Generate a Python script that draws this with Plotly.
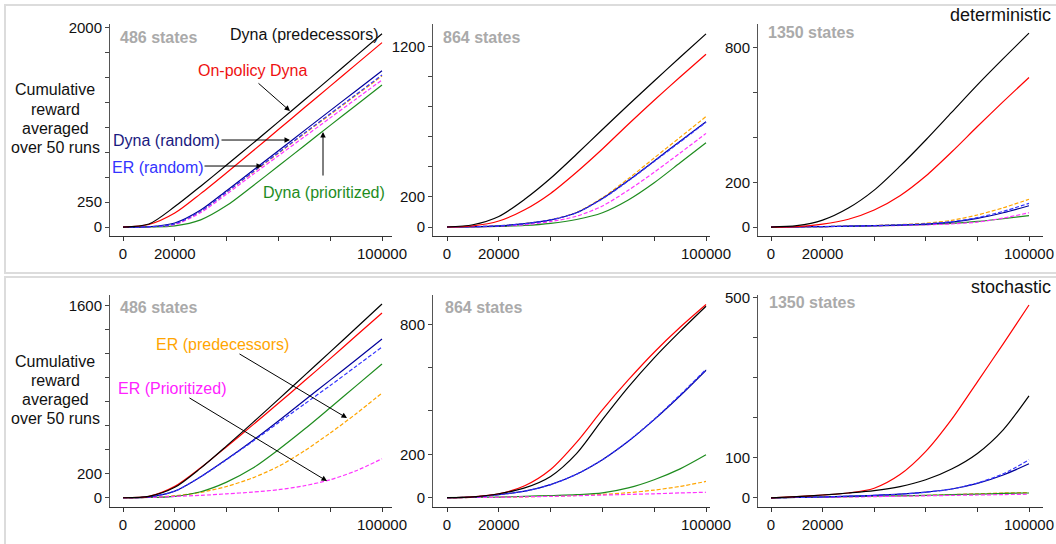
import plotly.graph_objects as go

# ---------------- data ----------------
steps = [0, 10000, 20000, 30000, 40000, 50000, 60000, 70000, 80000, 90000, 100000]

series_names = ["ER (predecessors)", "Dyna (prioritized)", "ER (Prioritized)",
                "Dyna (random)", "ER (random)", "On-policy Dyna", "Dyna (predecessors)"]

# deterministic, 486 states
det486_er_pred   = [0, 2, 30, 160, 350, 545, 740, 935, 1128, 1322, 1515]
det486_dyna_prio = [0, 1, 12, 72, 215, 410, 612, 816, 1020, 1222, 1425]
det486_er_prio   = [0, 2, 25, 145, 330, 525, 715, 905, 1095, 1285, 1475]
det486_dyna_rand = [0, 3, 40, 170, 365, 565, 765, 967, 1168, 1368, 1568]
det486_er_rand   = [0, 2, 32, 160, 350, 550, 746, 942, 1136, 1330, 1525]
det486_onpolicy  = [0, 25, 140, 335, 545, 760, 978, 1196, 1414, 1632, 1850]
det486_dyna_pred = [0, 30, 205, 410, 622, 837, 1055, 1274, 1494, 1717, 1940]

# deterministic, 864 states
det864_er_pred   = [0, 2, 8, 22, 48, 97, 195, 322, 460, 598, 736]
det864_dyna_prio = [0, 1, 4, 10, 24, 50, 95, 180, 295, 428, 562]
det864_er_prio   = [0, 1, 5, 15, 36, 72, 140, 245, 365, 493, 624]
det864_dyna_rand = [0, 2, 8, 22, 47, 95, 190, 310, 440, 572, 702]
det864_er_rand   = [0, 2, 8, 22, 47, 95, 188, 307, 437, 567, 698]
det864_onpolicy  = [0, 8, 40, 115, 224, 365, 520, 685, 845, 1000, 1151]
det864_dyna_pred = [0, 15, 70, 185, 325, 485, 650, 813, 973, 1131, 1287]

# deterministic, 1350 states
det1350_er_pred   = [0, 1, 2, 4, 7, 11, 17, 30, 54, 86, 124]
det1350_dyna_prio = [0, 1, 2, 3, 5, 8, 11, 16, 25, 37, 51]
det1350_er_prio   = [0, 1, 2, 3, 5, 7, 10, 14, 22, 40, 64]
det1350_dyna_rand = [0, 1, 2, 4, 6, 9, 13, 22, 39, 64, 95]
det1350_er_rand   = [0, 1, 2, 4, 6, 10, 14, 24, 42, 70, 106]
det1350_onpolicy  = [0, 2, 13, 35, 76, 140, 228, 335, 449, 560, 668]
det1350_dyna_pred = [0, 6, 31, 85, 165, 272, 389, 512, 635, 752, 866]

# stochastic, 486 states
sto486_er_pred   = [0, 3, 17, 45, 94, 165, 261, 390, 539, 700, 872]
sto486_dyna_prio = [0, 2, 12, 50, 130, 245, 400, 570, 750, 932, 1114]
sto486_er_prio   = [0, 3, 11, 20, 33, 47, 67, 100, 150, 225, 325]
sto486_dyna_rand = [0, 8, 55, 175, 320, 475, 640, 810, 980, 1150, 1322]
sto486_er_rand   = [0, 8, 55, 175, 318, 468, 625, 780, 935, 1095, 1256]
sto486_onpolicy  = [0, 12, 95, 250, 425, 605, 787, 972, 1159, 1349, 1539]
sto486_dyna_pred = [0, 12, 87, 247, 432, 624, 820, 1017, 1215, 1414, 1614]

# stochastic, 864 states
sto864_er_pred   = [0, 1, 2, 4, 7, 10, 15, 23, 35, 52, 75]
sto864_dyna_prio = [0, 1, 3, 6, 10, 14, 22, 45, 83, 133, 198]
sto864_er_prio   = [0, 1, 2, 4, 6, 9, 12, 15, 18, 22, 25]
sto864_dyna_rand = [0, 3, 14, 30, 60, 108, 175, 260, 360, 470, 588]
sto864_er_rand   = [0, 3, 14, 30, 60, 108, 175, 261, 362, 474, 592]
sto864_onpolicy  = [0, 4, 18, 55, 130, 255, 405, 543, 671, 786, 891]
sto864_dyna_pred = [0, 4, 18, 45, 98, 203, 360, 510, 645, 767, 883]

# stochastic, 1350 states
sto1350_er_pred   = [0, 1, 2, 3, 4, 5, 6, 8, 10, 12, 13]
sto1350_dyna_prio = [0, 1, 2, 3, 4, 5, 6, 8, 9, 11, 12]
sto1350_er_prio   = [0, 1, 1, 2, 3, 4, 5, 6, 7, 8, 9]
sto1350_dyna_rand = [0, 1, 2, 4, 6, 9, 14, 22, 36, 57, 85]
sto1350_er_rand   = [0, 1, 2, 4, 6, 9, 14, 22, 37, 60, 95]
sto1350_onpolicy  = [0, 3, 7, 12, 24, 58, 116, 196, 290, 385, 482]
sto1350_dyna_pred = [0, 3, 7, 12, 18, 28, 45, 72, 111, 170, 255]

panel_titles = ["486 states", "864 states", "1350 states",
                "486 states", "864 states", "1350 states"]

# tick values / labels
x_tickvals = [0, 20000, 40000, 60000, 80000, 100000]
x_ticktext = ["0", "20000", "", "", "", "100000"]

y_tickvals_list = [
    [0, 250, 500, 750, 1000, 1250, 1500, 1750, 2000],
    [0, 200, 400, 600, 800, 1000, 1200],
    [0, 200, 400, 600, 800],
    [0, 200, 400, 600, 800, 1000, 1200, 1400, 1600],
    [0, 200, 400, 600, 800],
    [0, 100, 200, 300, 400, 500],
]
y_labelled = [[0, 250, 2000], [0, 200, 1200], [0, 200, 800],
              [0, 200, 1600], [0, 200, 800], [0, 100, 500]]

y_title_lines = ["Cumulative", "reward", "averaged", "over 50 runs"]

# ---------------- styling ----------------
W, H = 1056, 544
FONT = "Liberation Sans, Arial, Helvetica, sans-serif"
styles = [
    dict(color="#ffa500", dash="4px,2px"),   # ER (predecessors)
    dict(color="#1e8c1e", dash="solid"),     # Dyna (prioritized)
    dict(color="#ff33ff", dash="4px,2px"),   # ER (Prioritized)
    dict(color="#000099", dash="solid"),     # Dyna (random)
    dict(color="#3333ff", dash="4px,2px"),   # ER (random)
    dict(color="#ff0000", dash="solid"),     # On-policy Dyna
    dict(color="#000000", dash="solid"),     # Dyna (predecessors)
]

panels = [
    [det486_er_pred, det486_dyna_prio, det486_er_prio, det486_dyna_rand, det486_er_rand, det486_onpolicy, det486_dyna_pred],
    [det864_er_pred, det864_dyna_prio, det864_er_prio, det864_dyna_rand, det864_er_rand, det864_onpolicy, det864_dyna_pred],
    [det1350_er_pred, det1350_dyna_prio, det1350_er_prio, det1350_dyna_rand, det1350_er_rand, det1350_onpolicy, det1350_dyna_pred],
    [sto486_er_pred, sto486_dyna_prio, sto486_er_prio, sto486_dyna_rand, sto486_er_rand, sto486_onpolicy, sto486_dyna_pred],
    [sto864_er_pred, sto864_dyna_prio, sto864_er_prio, sto864_dyna_rand, sto864_er_rand, sto864_onpolicy, sto864_dyna_pred],
    [sto1350_er_pred, sto1350_dyna_prio, sto1350_er_prio, sto1350_dyna_rand, sto1350_er_rand, sto1350_onpolicy, sto1350_dyna_pred],
]

# pixel layout of each panel: (left, right) x ; (top, bottom) y
col_px = [(110, 392), (433, 710), (758, 1043)]
row_px = [(24, 236), (295, 507)]
x_ranges = [[-5019, 103861], [-5405, 101544], [-5039, 105426]]
y_ranges = [[-90, 2037], [-60, 1353], [-40, 907], [-77, 1689], [-43, 935], [-23, 507]]


def px(x):
    return x / W


def py(y):
    return 1 - y / H


fig = go.Figure()
layout = dict(
    width=W, height=H, margin=dict(l=0, r=0, t=0, b=0, autoexpand=False),
    paper_bgcolor="white", plot_bgcolor="white", showlegend=False,
    font=dict(family=FONT, size=15, color="#111"),
)

for i, pdata in enumerate(panels):
    r, c = divmod(i, 3)
    k = "" if i == 0 else str(i + 1)
    for name, vals, st in zip(series_names, pdata, styles):
        fig.add_trace(go.Scatter(
            x=steps, y=vals, mode="lines", name=name,
            line=dict(color=st["color"], dash=st["dash"], width=1.2,
                      shape="spline", smoothing=0.8),
            xaxis="x" + k, yaxis="y" + k, hoverinfo="skip"))
    yt = y_tickvals_list[i]
    layout["xaxis" + k] = dict(
        domain=[px(col_px[c][0]), px(col_px[c][1])], anchor="y" + k,
        range=x_ranges[c], tickvals=x_tickvals, ticktext=x_ticktext,
        ticks="outside", ticklen=4, tickcolor="#333", showline=True,
        linecolor="#333", linewidth=1, showgrid=False, zeroline=False,
        automargin=False, tickfont=dict(size=15, color="#111"))
    layout["yaxis" + k] = dict(
        domain=[py(row_px[r][1]), py(row_px[r][0])], anchor="x" + k,
        range=y_ranges[i], tickvals=yt,
        ticktext=[str(v) if v in y_labelled[i] else "" for v in yt],
        ticks="outside", ticklen=4, tickcolor="#444", showline=True,
        linecolor="#555", linewidth=1, showgrid=False, zeroline=False,
        automargin=False, tickfont=dict(size=15, color="#111"))

annotations = []
# panel titles (grey, bold)
title_pos = [(118, 38), (441, 38), (766, 32), (118, 307), (443, 307), (767, 302)]
for t, (x, y) in zip(panel_titles, title_pos):
    annotations.append(dict(text="<b>" + t + "</b>", x=px(x), y=py(y), xref="paper", yref="paper",
                            xanchor="left", yanchor="middle", showarrow=False,
                            font=dict(size=16, color="#aaaaaa")))

# y-axis titles (one annotation per line to control spacing)
for y0 in (90, 361):
    for j, line in enumerate(y_title_lines):
        annotations.append(dict(text=line, x=px(55), y=py(y0 + 19.2 * j), xref="paper", yref="paper",
                                xanchor="center", yanchor="middle", showarrow=False,
                                font=dict(size=16, color="#111")))

# row labels
annotations.append(dict(text="deterministic", x=px(1053), y=py(15), xref="paper", yref="paper",
                        xanchor="right", yanchor="middle", showarrow=False,
                        font=dict(size=18, color="#111")))
annotations.append(dict(text="stochastic", x=px(1053), y=py(287), xref="paper", yref="paper",
                        xanchor="right", yanchor="middle", showarrow=False,
                        font=dict(size=18, color="#111")))

# curve labels
labels = [
    ("Dyna (predecessors)", 304, 34, "#111111"),
    ("On-policy Dyna", 252, 71, "#ee1111"),
    ("Dyna (random)", 166, 140, "#1a1a80"),
    ("ER (random)", 158, 167, "#3333ff"),
    ("Dyna (prioritized)", 324, 193, "#1e8c1e"),
    ("ER (predecessors)", 222, 344, "#ffa500"),
    ("ER (Prioritized)", 172, 388, "#ff22ff"),
]
for t, x, y, col in labels:
    annotations.append(dict(text=t, x=px(x), y=py(y), xref="paper", yref="paper",
                            xanchor="center", yanchor="middle", showarrow=False,
                            font=dict(size=16, color=col)))

# arrows (head in data coords, tail as pixel offset)
arrows = [
    ("x", "y", 64479, 1164, -33, -29),
    ("x", "y", 64479, 873, -70, 0),
    ("x", "y", 53668, 612, -59, 0),
    ("x", "y", 77220, 953, 0, 45),
    ("x4", "y4", 86486, 664, -109, -65),
    ("x4", "y4", 78764, 139, -139, -84),
]
for xr, yr, x, y, ax, ay in arrows:
    annotations.append(dict(text="", x=x, y=y, xref=xr, yref=yr, ax=ax, ay=ay,
                            showarrow=True, arrowhead=2, arrowsize=1.1,
                            arrowwidth=1, arrowcolor="#000"))

layout["annotations"] = annotations

# light grey frames around the two rows
layout["shapes"] = [
    dict(type="rect", xref="paper", yref="paper", x0=px(5), x1=1.02, y0=py(273), y1=py(5),
         line=dict(color="#dcdcdc", width=2), layer="below"),
    dict(type="rect", xref="paper", yref="paper", x0=px(5), x1=1.02, y0=-0.02, y1=py(277),
         line=dict(color="#dcdcdc", width=2), layer="below"),
]

fig.update_layout(**layout)
fig.write_html(
    "out.html",
    config={"displayModeBar": False},
    post_script="document.body.style.margin='0';document.body.style.padding='0';"
                "document.documentElement.style.overflow='hidden';",
)
